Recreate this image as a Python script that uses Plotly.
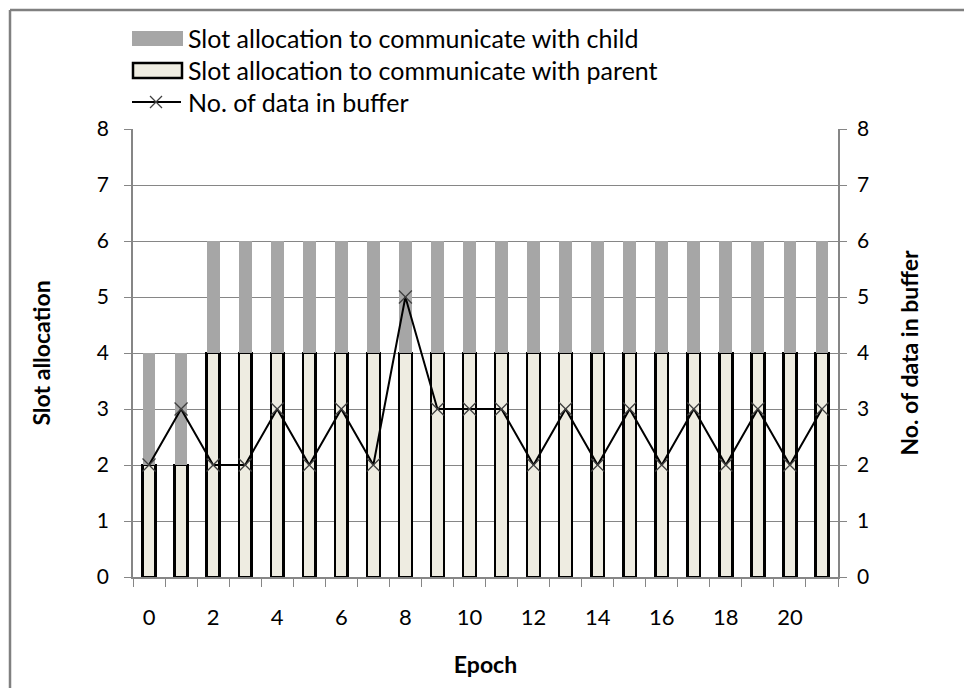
import plotly.graph_objects as go

# Epochs and per-epoch values
epochs = [str(i) for i in range(22)]
parent_slots = [2, 2, 4, 4, 4, 4, 4, 4, 4, 4, 4, 4, 4, 4, 4, 4, 4, 4, 4, 4, 4, 4]
child_slots = [2, 2, 2, 2, 2, 2, 2, 2, 2, 2, 2, 2, 2, 2, 2, 2, 2, 2, 2, 2, 2, 2]
buffer_data = [2, 3, 2, 2, 3, 2, 3, 2, 5, 3, 3, 3, 2, 3, 2, 3, 2, 3, 2, 3, 2, 3]
x_labels = [e if int(e) % 2 == 0 and int(e) <= 20 else "" for e in epochs]
y_ticks = list(range(9))

label_names = [
    "Slot allocation to communicate with child",
    "Slot allocation to communicate with parent",
    "No. of data in buffer",
]

FONT = "Lato"
GRID = "#868686"
CHILD = "#A6A6A6"
PARENT = "#EEECE1"

fig = go.Figure()
fig.add_trace(go.Bar(
    x=epochs, y=parent_slots, name=label_names[1], width=0.4,
    marker=dict(color=PARENT, line=dict(color="black", width=2.5)),
))
fig.add_trace(go.Bar(
    x=epochs, y=child_slots, name=label_names[0], width=0.4,
    marker=dict(color=CHILD, line=dict(width=0)),
))
fig.add_trace(go.Scatter(
    x=epochs, y=buffer_data, name=label_names[2], yaxis="y2",
    mode="lines+markers", line=dict(color="black", width=2),
    marker=dict(symbol="x-thin", size=13, line=dict(color="#404040", width=1.3)),
))

# Hand-drawn legend in paper coordinates
L, R, T, B = 133, 838, 129, 577


def px(x):
    return (x - L) / (R - L)


def py(y):
    return (B - y) / (B - T)


shapes = [
    dict(type="rect", xref="paper", yref="paper", x0=px(132), x1=px(183), y0=py(46), y1=py(31),
         fillcolor=CHILD, line=dict(width=0)),
    dict(type="rect", xref="paper", yref="paper", x0=px(133), x1=px(182), y0=py(78), y1=py(63),
         fillcolor=PARENT, line=dict(color="black", width=2.5)),
    dict(type="line", xref="paper", yref="paper", x0=px(132), x1=px(181), y0=py(102), y1=py(102),
         line=dict(color="black", width=2)),
    dict(type="line", xref="paper", yref="paper", x0=px(150), x1=px(162), y0=py(96), y1=py(108),
         line=dict(color="#404040", width=1.3)),
    dict(type="line", xref="paper", yref="paper", x0=px(150), x1=px(162), y0=py(108), y1=py(96),
         line=dict(color="#404040", width=1.3)),
    # outer frame (top and left edges)
    dict(type="line", xref="paper", yref="paper", x0=px(10), x1=px(964), y0=py(10), y1=py(10),
         line=dict(color="#808080", width=2.5)),
    dict(type="line", xref="paper", yref="paper", x0=px(10), x1=px(10), y0=py(10), y1=py(690),
         line=dict(color="#808080", width=2.5)),
]
annotations = []
for name, yy in zip(label_names, [38, 70, 102]):
    annotations.append(dict(
        xref="paper", yref="paper", x=px(186), y=py(yy), text=name, showarrow=False,
        xanchor="left", yanchor="middle", font=dict(family=FONT, size=25, color="black"),
    ))

axis_common = dict(
    range=[0, 8], tickvals=y_ticks, showgrid=True, gridcolor=GRID, gridwidth=1,
    showline=True, linecolor=GRID, linewidth=1.5, ticks="outside", ticklen=7,
    tickcolor=GRID, zeroline=False, tickfont=dict(family=FONT, size=21, color="black"),
)

fig.update_layout(
    width=964, height=688, barmode="stack",
    margin=dict(l=L, r=964 - R, t=T, b=688 - B),
    paper_bgcolor="white", plot_bgcolor="white", showlegend=False,
    font=dict(family=FONT, color="black"),
    xaxis=dict(
        type="category", categoryorder="array", categoryarray=epochs, range=[-0.5, 21.5],
        tickmode="array", tickvals=epochs, ticktext=x_labels, tickson="boundaries", tickangle=0,
        ticks="outside", ticklen=8, tickcolor=GRID, showline=True, linecolor=GRID, linewidth=1.5,
        showgrid=False, tickfont=dict(family=FONT, size=22), ticklabelstandoff=20,
        title=dict(text="<b>Epoch</b>", font=dict(family=FONT, size=23), standoff=28),
    ),
    yaxis=dict(
        **axis_common, ticklabelstandoff=11,
        title=dict(text="<b>Slot allocation</b>", font=dict(family=FONT, size=23), standoff=40),
    ),
    yaxis2=dict(
        **axis_common, overlaying="y", side="right", ticklabelstandoff=6,
        title=dict(text="<b>No. of data in buffer</b>", font=dict(family=FONT, size=23), standoff=34),
    ),
    shapes=shapes, annotations=annotations,
)

fig.write_html("out.html")
